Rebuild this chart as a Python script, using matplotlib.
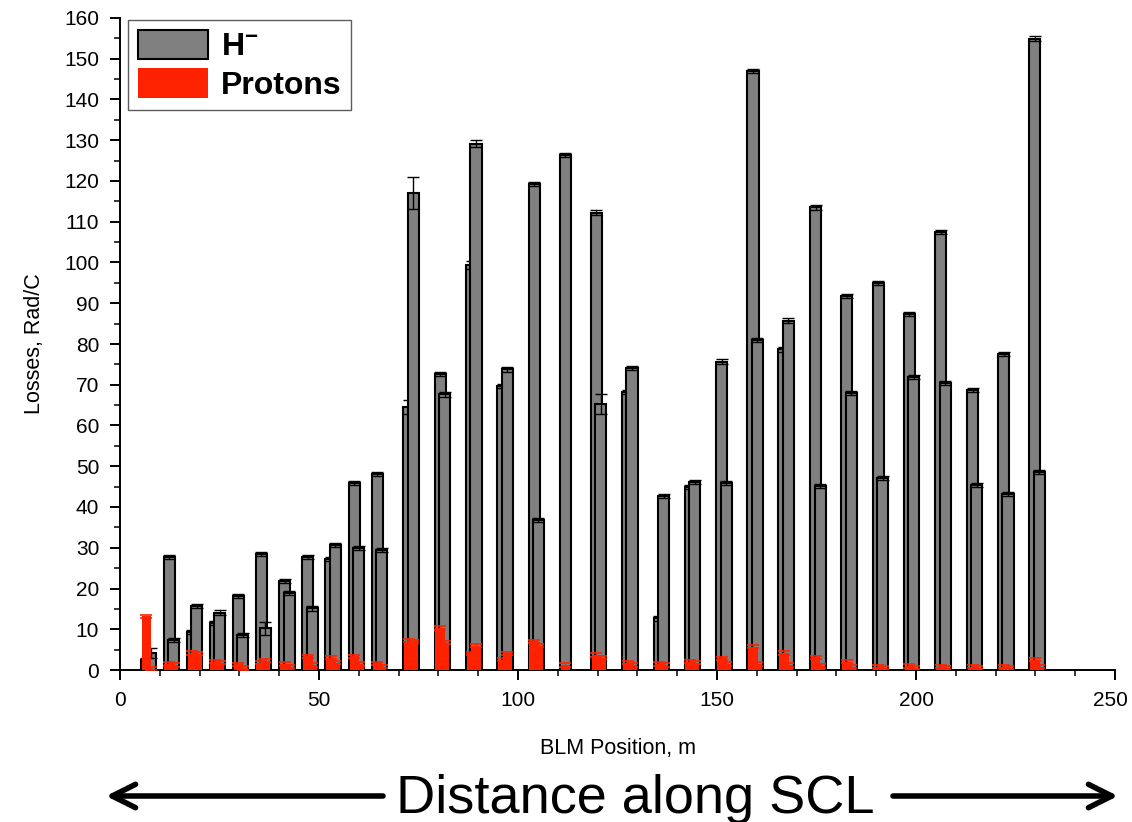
import numpy as np
import matplotlib
matplotlib.use("Agg")
import matplotlib.pyplot as plt
import matplotlib.transforms as mtransforms
from matplotlib.ticker import MultipleLocator

plt.rcParams['font.family'] = ['Liberation Sans', 'DejaVu Sans']
plt.rcParams['mathtext.fontset'] = 'custom'
plt.rcParams['mathtext.rm'] = 'Liberation Sans'
plt.rcParams['mathtext.bf'] = 'Liberation Sans:bold'

# ---- data -------------------------------------------------------------
positions = [7.15, 12.9, 18.75, 24.45, 30.3, 36.0, 41.95, 47.75, 53.55, 59.45,
             65.2, 73.1, 81.0, 88.9, 96.75, 104.6, 112.45, 120.25, 128.1, 136.05,
             143.8, 151.75, 159.6, 167.4, 175.35, 183.15, 191.05, 198.9, 206.8,
             214.75, 222.55, 230.4]

hminus_a = [2.45, 27.7, 9.4, 11.6, 18.2, 28.5, 21.8, 27.8, 27.2, 45.9,
            48.2, 64.6, 72.6, 99.4, 69.7, 119.3, 126.4, 112.2, 68.3, 12.7,
            44.8, 75.7, 147.1, 78.7, 113.5, 91.8, 94.9, 87.4, 107.4, 68.8,
            77.5, 154.9]
hminus_b = [4.1, 7.3, 15.7, 14.1, 8.6, 10.2, 19.0, 15.1, 30.7, 30.0,
            29.4, 117.1, 67.7, 129.2, 73.8, 36.8, np.nan, 65.3, 74.0, 42.7,
            46.2, 45.8, 81.0, 85.7, 45.2, 68.0, 47.2, 72.0, 70.5, 45.3,
            43.2, 48.5]
hminus_a_err = [0.6, 0.5, 0.5, 0.5, 0.5, 0.5, 0.5, 0.5, 0.5, 0.5,
                0.5, 1.7, 0.5, 1.0, 0.5, 0.5, 0.5, 0.6, 0.5, 0.6,
                0.5, 0.5, 0.5, 0.6, 0.5, 0.5, 0.5, 0.5, 0.5, 0.5,
                0.5, 0.6]
hminus_b_err = [1.2, 0.5, 0.5, 0.6, 0.5, 1.7, 0.5, 0.5, 0.5, 0.5,
                0.5, 4.0, 0.6, 0.8, 0.6, 0.5, np.nan, 2.4, 0.5, 0.5,
                0.5, 0.5, 0.5, 0.6, 0.5, 0.5, 0.5, 0.5, 0.5, 0.5,
                0.5, 0.5]

protons_a = [13.2, 1.5, 4.2, 2.0, 1.4, 1.8, 1.5, 3.4, 3.0, 3.4,
             1.6, 7.2, 10.3, 4.1, 2.5, 7.0, 1.2, 3.7, 1.8, 1.5,
             2.0, 2.9, 5.7, 4.2, 3.1, 2.0, 0.8, 1.0, 0.8, 0.8,
             0.8, 2.5]
protons_b = [0.3, 1.2, 4.0, 1.8, 0.5, 2.3, 0.8, 1.2, 1.8, 1.5,
             0.8, 7.0, 6.7, 6.0, 4.1, 6.0, np.nan, 3.0, 1.2, 1.2,
             1.8, 1.5, 1.5, 1.2, 1.0, 0.8, 0.6, 0.6, 0.6, 0.6,
             0.6, 0.8]
protons_err = 0.4

x_ticks = [0, 50, 100, 150, 200, 250]
y_ticks = list(range(0, 161, 10))

# ---- figure -----------------------------------------------------------
W, H = 1132, 822
fig = plt.figure(figsize=(W / 100, H / 100), dpi=100)
ax = fig.add_axes([120 / W, 1 - 670 / H, (1115 - 120) / W, (670 - 18) / H])

pos = np.array(positions)
width = 2.8
off = 0.55
grey = '#808080'
red = '#ff2200'

ax.bar(pos - off, hminus_a, width=width, color=grey, edgecolor='black',
       linewidth=1.5, zorder=2, label=r'$\mathbf{H^{-}}$')
ax.errorbar(pos - off, hminus_a, yerr=hminus_a_err, fmt='none', ecolor='black',
            elinewidth=1.0, capsize=4, capthick=1.0, zorder=2.5)
ax.bar(pos + off, hminus_b, width=width, color=grey, edgecolor='black',
       linewidth=1.5, zorder=3)
ax.errorbar(pos + off, hminus_b, yerr=hminus_b_err, fmt='none', ecolor='black',
            elinewidth=1.0, capsize=4, capthick=1.0, zorder=3.5)

ax.bar(pos - off, protons_a, width=width * 0.85, color=red, linewidth=0,
       zorder=4, label='Protons')
ax.errorbar(pos - off, protons_a, yerr=protons_err, fmt='none', ecolor=red,
            elinewidth=1.0, capsize=4.5, capthick=1.2, zorder=4.5)
ax.bar(pos + off, protons_b, width=width * 0.85, color=red, linewidth=0,
       zorder=5)
ax.errorbar(pos + off, protons_b, yerr=protons_err, fmt='none', ecolor=red,
            elinewidth=1.0, capsize=4.5, capthick=1.2, zorder=5.5)

ax.set_xlim(0, 250)
ax.set_ylim(0, 160)
ax.set_xticks(x_ticks)
ax.set_yticks(y_ticks)
ax.xaxis.set_minor_locator(MultipleLocator(10))
ax.yaxis.set_minor_locator(MultipleLocator(5))
ax.spines['top'].set_visible(False)
ax.spines['right'].set_visible(False)
for s in ('left', 'bottom'):
    ax.spines[s].set_linewidth(1.4)
ax.tick_params(axis='both', which='major', direction='out', length=7,
               width=1.4, labelsize=15)
ax.tick_params(axis='both', which='minor', direction='out', length=4,
               width=1.1)
ax.tick_params(axis='y', which='major', pad=8)
ax.tick_params(axis='x', which='major', pad=8)

# keep the last x tick label inside the canvas
fig.canvas.draw()
last = ax.get_xticklabels()[-1]
last.set_transform(last.get_transform() +
                   mtransforms.ScaledTranslation(-5 / 100, 0, fig.dpi_scale_trans))

ax.set_xlabel('BLM Position, m', fontsize=15.5, labelpad=20)
ax.set_ylabel('Losses, Rad/C', fontsize=15.5, labelpad=14)

leg = ax.legend(loc='upper left', bbox_to_anchor=(128 / W, 1 - 20 / H),
                bbox_transform=fig.transFigure, borderaxespad=0,
                fancybox=False, frameon=True, edgecolor='#333333',
                prop={'weight': 'bold', 'size': 23}, handlelength=2.2,
                handleheight=1.05, handletextpad=0.4, labelspacing=0.18,
                borderpad=0.3)
leg.get_frame().set_linewidth(1.0)

# bottom annotation
ty = 1 - 799 / H
fig.text(635 / W, ty, 'Distance along SCL', fontsize=39, ha='center',
         va='center')
arrow_kw = dict(arrowstyle='->', lw=4, mutation_scale=42, color='black',
                shrinkA=0, shrinkB=0)
fig.add_artist(matplotlib.patches.FancyArrowPatch(
    (383 / W, 1 - 796 / H), (106 / W, 1 - 796 / H), transform=fig.transFigure,
    **arrow_kw))
fig.add_artist(matplotlib.patches.FancyArrowPatch(
    (893 / W, 1 - 796 / H), (1118 / W, 1 - 796 / H), transform=fig.transFigure,
    **arrow_kw))

fig.savefig('out.png', dpi=100)
